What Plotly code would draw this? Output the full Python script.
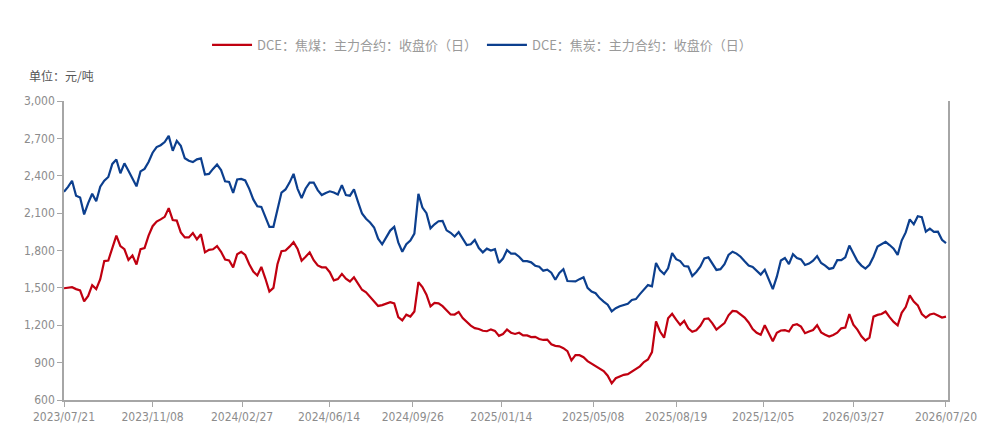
import pandas as pd
import plotly.graph_objects as go

# sample dates (every 5 calendar days)
dates = pd.date_range("2023-07-21", "2026-07-20", freq="5D")

# DCE coke main contract close (blue)
coke = [
    2272, 2310, 2360, 2240, 2225, 2090, 2180, 2255, 2195, 2312,
    2360, 2390, 2495, 2530, 2420, 2500, 2440, 2380, 2315, 2435,
    2455, 2510, 2585, 2630, 2645, 2670, 2720, 2600, 2680, 2640,
    2540, 2520, 2510, 2532, 2540, 2410, 2415, 2455, 2490, 2446,
    2355, 2350, 2262, 2370, 2375, 2362, 2295, 2210, 2155, 2150,
    2065, 1990, 1990, 2140, 2265, 2290, 2345, 2415, 2295, 2220,
    2298, 2345, 2345, 2285, 2245, 2262, 2275, 2265, 2250, 2325,
    2245, 2240, 2290, 2190, 2097, 2055, 2025, 1985, 1895, 1850,
    1908, 1960, 1990, 1865, 1790, 1850, 1880, 1935, 2255, 2145,
    2100, 1978, 2010, 2035, 2038, 1962, 1942, 1912, 1948, 1895,
    1844, 1850, 1885, 1820, 1785, 1815, 1800, 1810, 1700, 1735,
    1804, 1775, 1775, 1750, 1715, 1715, 1705, 1678, 1670, 1638,
    1646, 1622, 1565, 1620, 1650, 1555, 1552, 1552, 1570, 1585,
    1500, 1470, 1457, 1418, 1390, 1365, 1312, 1337, 1352, 1363,
    1373, 1403, 1410, 1450, 1490, 1522, 1512, 1700, 1640, 1610,
    1657, 1780, 1730, 1715, 1675, 1671, 1595, 1628, 1670, 1737,
    1745, 1690, 1644, 1650, 1690, 1764, 1790, 1775, 1750, 1713,
    1680, 1668, 1635, 1607, 1645, 1568, 1490, 1590, 1720, 1740,
    1690, 1770, 1740, 1728, 1684, 1695, 1718, 1755, 1700, 1678,
    1652, 1660, 1722, 1722, 1745, 1840, 1772, 1715, 1679, 1655,
    1685, 1750, 1832, 1850, 1870, 1844, 1815, 1765, 1880, 1945,
    2050, 2010, 2075, 2068, 1951, 1975, 1950, 1951, 1886, 1860,
]

# DCE coking coal main contract close (red)
coking_coal = [
    1497, 1500, 1505, 1490, 1480, 1392, 1435, 1522, 1490, 1570,
    1715, 1720, 1830, 1920, 1835, 1810, 1724, 1760, 1688, 1811,
    1819, 1920, 1995, 2032, 2050, 2070, 2140, 2045, 2040, 1945,
    1905, 1905, 1940, 1890, 1930, 1785, 1805, 1810, 1835, 1790,
    1727, 1720, 1665, 1770, 1789, 1764, 1690, 1631, 1600, 1668,
    1575, 1470, 1500, 1690, 1795, 1800, 1831, 1867, 1813, 1718,
    1750, 1785, 1722, 1680, 1665, 1665, 1626, 1560, 1570, 1612,
    1573, 1551, 1585, 1530, 1485, 1465, 1427, 1395, 1355, 1362,
    1373, 1385, 1375, 1266, 1239, 1285, 1270, 1310, 1545, 1507,
    1445, 1351, 1380, 1376, 1353, 1320, 1287, 1286, 1307, 1258,
    1230, 1197, 1177, 1170, 1156, 1152, 1167, 1155, 1115, 1130,
    1165, 1140, 1130, 1140, 1118, 1118, 1105, 1107, 1090, 1082,
    1085, 1047, 1035, 1031, 1016, 992, 918, 960, 960, 944,
    912, 893, 872, 852, 832, 795, 734, 775, 791, 802,
    808, 830, 848, 870, 905, 925, 985, 1230, 1150, 1100,
    1256, 1292, 1245, 1203, 1235, 1176, 1148, 1160, 1195, 1250,
    1255, 1215, 1165, 1189, 1217, 1280, 1315, 1312, 1290, 1262,
    1222, 1170, 1139, 1123, 1200, 1136, 1072, 1140, 1158, 1160,
    1150, 1200, 1208, 1189, 1136, 1149, 1162, 1200, 1143, 1124,
    1109, 1122, 1140, 1175, 1182, 1290, 1205, 1165, 1112, 1078,
    1100, 1269, 1283, 1290, 1310, 1265, 1227, 1200, 1300, 1346,
    1440, 1390, 1360, 1290, 1262, 1286, 1294, 1278, 1262, 1269,
]

tick_dates = ["2023-07-21", "2023-11-08", "2024-02-27", "2024-06-14", "2024-09-26",
              "2025-01-14", "2025-05-08", "2025-08-19", "2025-12-05", "2026-03-27",
              "2026-07-20"]
tick_labels = ["2023/07/21", "2023/11/08", "2024/02/27", "2024/06/14", "2024/09/26",
               "2025/01/14", "2025/05/08", "2025/08/19", "2025/12/05", "2026/03/27",
               "2026/07/20"]
y_ticks = [600, 900, 1200, 1500, 1800, 2100, 2400, 2700, 3000]

name_coal = "DCE：焦煤：主力合约：收盘价（日）"
name_coke = "DCE：焦炭：主力合约：收盘价（日）"

RED = "#C00010"
BLUE = "#0C3F8E"
AXIS = "#A6A6A6"
TICKFONT = dict(family="Liberation Sans Narrow, DejaVu Sans Condensed, Arial Narrow, sans-serif",
                size=12, color="#8C8C8C")

fig = go.Figure()
fig.add_trace(go.Scatter(x=dates, y=coking_coal, mode="lines", name=name_coal,
                         line=dict(color=RED, width=2.2)))
fig.add_trace(go.Scatter(x=dates, y=coke, mode="lines", name=name_coke,
                         line=dict(color=BLUE, width=2.2)))

fig.update_layout(
    width=998, height=444,
    margin=dict(l=64, r=50, t=101, b=44),
    plot_bgcolor="white", paper_bgcolor="white",
    showlegend=True,
    legend=dict(orientation="h", xref="container", yref="container",
                x=0.483, xanchor="center", y=0.899, yanchor="middle",
                font=dict(family="Noto Sans CJK SC", size=13, color="#9A9A9A"),
                itemwidth=40, tracegroupgap=0),
    annotations=[dict(text="单位：元/吨", xref="paper", yref="paper",
                      x=-64 / 884 + 27 / 884, y=1 + 26 / 299, xanchor="left", yanchor="middle",
                      showarrow=False,
                      font=dict(family="Noto Sans CJK SC", size=12, color="#555555"))],
)

fig.update_xaxes(
    type="date",
    range=["2023-07-21", "2026-07-22 12:00"],
    tickvals=tick_dates, ticktext=tick_labels,
    showgrid=False, zeroline=False,
    showline=True, linecolor=AXIS, linewidth=1.5,
    ticks="outside", ticklen=5, tickcolor=AXIS, tickwidth=1,
    tickfont=TICKFONT,
)
fig.update_yaxes(
    range=[600, 3000],
    tickvals=y_ticks, tickformat=",",
    showgrid=False, zeroline=False,
    showline=True, linecolor=AXIS, linewidth=1.5, mirror=True,
    ticks="outside", ticklen=5, tickcolor=AXIS, tickwidth=1,
    tickfont=TICKFONT,
)

fig.write_html("out.html")
